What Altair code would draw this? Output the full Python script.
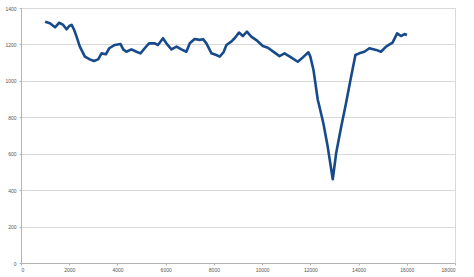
import altair as alt
import pandas as pd

xs = [1000, 1200, 1410, 1585, 1750, 1890, 2000, 2100, 2195, 2305, 2440, 2650, 2855, 3020,
      3200, 3340, 3520, 3660, 3890, 4130, 4240, 4370, 4580, 4790, 4955, 5130, 5310, 5550,
      5680, 5890, 6030, 6240, 6450, 6650, 6860, 7000, 7200, 7410, 7550, 7690, 7900, 8100,
      8240, 8400, 8520, 8720, 8860, 9040, 9200, 9370, 9550, 9760, 10030, 10240, 10520,
      10720, 10930, 11200, 11480, 11690, 11920, 12000, 12130, 12310, 12380, 12540, 12720,
      12930, 13070, 13280, 13480, 13650, 13870, 14030, 14240, 14450, 14730, 14930, 15140,
      15410, 15600, 15760, 15900, 16010]
ys = [1325, 1316, 1294, 1319, 1307, 1283, 1301, 1307, 1283, 1243, 1188, 1133, 1118, 1109,
      1118, 1151, 1146, 1179, 1197, 1202, 1173, 1160, 1173, 1160, 1151, 1179, 1206, 1206,
      1197, 1234, 1206, 1173, 1188, 1173, 1160, 1206, 1230, 1225, 1229, 1206, 1151, 1142,
      1133, 1157, 1197, 1215, 1234, 1265, 1246, 1270, 1243, 1224, 1191, 1182, 1155,
      1136, 1151, 1129, 1105, 1129, 1157, 1133, 1060, 895, 858, 767, 639,
      460, 602, 748, 877, 995, 1142, 1151, 1160, 1179, 1170, 1160, 1188,
      1210, 1261, 1246, 1257, 1252]

x_ticks = list(range(0, 18001, 2000))
y_ticks = list(range(0, 1401, 200))

df = pd.DataFrame({"x": xs, "y": ys})

chart = alt.Chart(df).mark_line(color="#174a8b", strokeWidth=2.6, strokeJoin="round").encode(
    x=alt.X("x:Q", scale=alt.Scale(domain=[0, 18000], nice=False),
            axis=alt.Axis(values=x_ticks, format="d", title=None, grid=False, labelFontSize=5,
                          labelColor="#555555", domainColor="#b3b3b3", tickColor="#b3b3b3",
                          tickSize=2, labelPadding=2, labelFont="Liberation Sans")),
    y=alt.Y("y:Q", scale=alt.Scale(domain=[0, 1400], nice=False),
            axis=alt.Axis(values=y_ticks, format="d", title=None, grid=True, gridColor="#d9d9d9",
                          labelFontSize=5, labelColor="#555555", domainColor="#b3b3b3",
                          tickColor="#b3b3b3", tickSize=2, labelPadding=3,
                          labelFont="Liberation Sans")),
).properties(
    width=434, height=255,
    autosize=alt.AutoSizeParams(type="none"),
    padding={"left": 21, "top": 8, "right": 19, "bottom": 14},
).configure_view(stroke="#d9d9d9")

chart.save("out.html", embed_options={"renderer": "svg", "actions": False})
